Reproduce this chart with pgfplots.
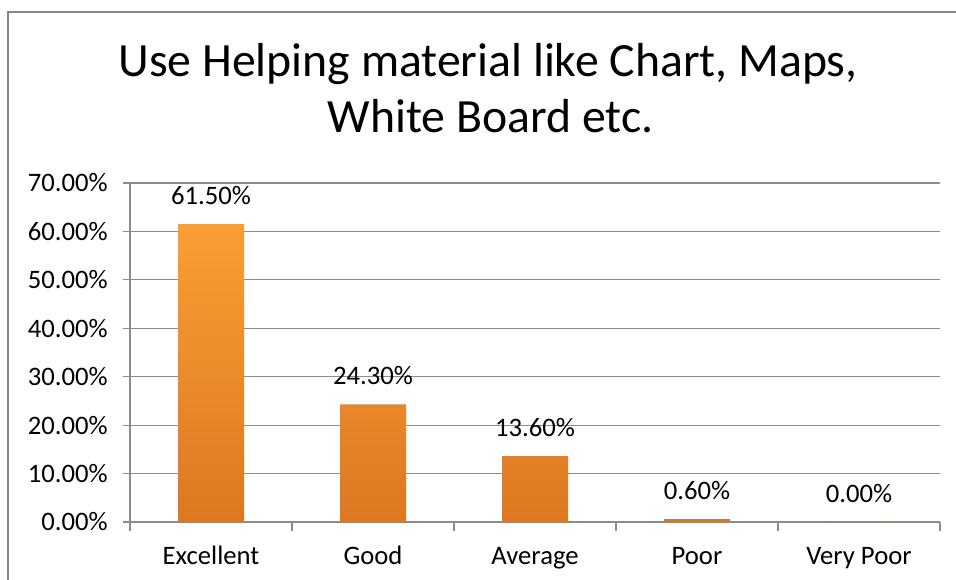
\documentclass[border=0pt]{standalone}
\usepackage{pgfplots}
\pgfplotsset{compat=1.18}
\usepackage{fontspec}
\setmainfont{Carlito}
\definecolor{barTop}{HTML}{FA9E33}
\definecolor{barBot}{HTML}{DD7722}
\definecolor{gridc}{HTML}{8C8C8C}
\definecolor{framec}{HTML}{868686}
\begin{document}
\begin{tikzpicture}
\useasboundingbox (0,0) rectangle (717pt,434.25pt);
\draw[framec, line width=0.8pt] (6pt,-2pt) -- (6pt,425.25pt) -- (720pt,425.25pt);
\node[anchor=base, font=\fontsize{35.8}{43}\selectfont] at (366pt,376.5pt) {Use Helping material like Chart, Maps,};
\node[anchor=base, font=\fontsize{35.8}{43}\selectfont] at (368pt,335pt) {White Board etc.};
\begin{axis}[
  at={(97.5pt,42.75pt)}, anchor=south west,
  scale only axis, width=607.5pt, height=254.25pt,
  xmin=-0.5, xmax=4.5, ymin=0, ymax=70,
  axis lines=left, axis line style={gridc, line width=0.8pt, -},
  xtick={0,1,2,3,4},
  xticklabels={Excellent,Good,Average,Poor,Very Poor},
  minor xtick={-0.5,0.5,1.5,2.5,3.5,4.5},
  major x tick style={draw=none},
  minor tick length=6.75pt,
  ytick={0,10,...,70},
  major tick length=5.25pt,
  tick align=outside,
  tick style={gridc, line width=0.8pt},
  ymajorgrids, grid style={gridc, line width=0.8pt},
  yticklabel={\pgfmathprintnumber[fixed,fixed zerofill,precision=2]{\tick}\%},
  /pgf/number format/assume math mode=true,
  ticklabel style={font=\fontsize{20}{24}\selectfont},
  xticklabel style={anchor=base, yshift=-26.5pt},
  yticklabel style={xshift=-8pt},
  ybar, bar width=49.5pt,
  nodes near coords={\pgfmathprintnumber[fixed,fixed zerofill,precision=2]{\pgfplotspointmeta}\%},
  every node near coord/.append style={font=\fontsize{20}{24}\selectfont, anchor=base, yshift=15pt, black},
  clip=false,
]
\addplot[draw=none, top color=barTop, bottom color=barBot] coordinates {(0,61.5) (1,24.3) (2,13.6) (3,0.6) (4,0)};
\end{axis}
\end{tikzpicture}
\end{document}
